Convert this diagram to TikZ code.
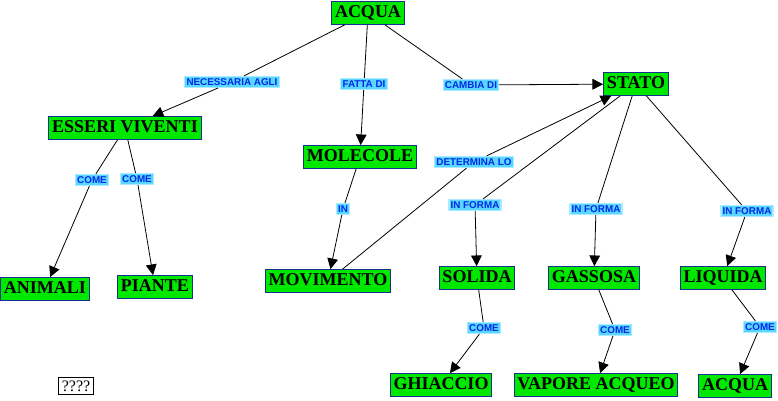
\documentclass[tikz,border=0pt]{standalone}
\usepackage{fontspec}
\setmainfont{Liberation Serif}
\newfontfamily\labelfont{Liberation Sans}
\usetikzlibrary{arrows.meta}

\definecolor{conceptgreen}{RGB}{0,232,0}
\definecolor{conceptborder}{RGB}{20,50,140}
\definecolor{linkfill}{RGB}{90,215,255}
\definecolor{linkglow}{RGB}{170,235,255}
\definecolor{linktext}{RGB}{0,40,230}

\begin{document}
\begin{tikzpicture}[x=0.75pt,y=-0.75pt,
    concept/.style={draw=conceptborder,fill=conceptgreen,line width=0.8pt,
        font=\fontsize{13.5}{15}\selectfont\bfseries,
        inner xsep=2.5pt,inner ysep=2.5pt,text height=9.5pt,text depth=2.5pt},
    link/.style={fill=linkfill,draw=linkglow,line width=0.8pt,text=linktext,
        font=\labelfont\fontsize{7.4}{8}\selectfont\bfseries,
        inner xsep=1.2pt,inner ysep=1pt,text height=5.5pt,text depth=0.8pt},
    conn/.style={line width=0.6pt},
    arr/.style={conn,-{Triangle[length=8pt,width=8pt]}}]

\useasboundingbox (0,0) rectangle (778,400);

% Concepts
\node[concept] (acqua) at (368,13) {ACQUA};
\node[concept] (stato) at (636,84) {STATO};
\node[concept] (esseri) at (125,128) {ESSERI VIVENTI};
\node[concept] (molecole) at (360,157) {MOLECOLE};
\node[concept] (animali) at (45,289) {ANIMALI};
\node[concept] (piante) at (155,287) {PIANTE};
\node[concept] (movimento) at (328,281) {MOVIMENTO};
\node[concept] (solida) at (477,278) {SOLIDA};
\node[concept] (gassosa) at (594,278) {GASSOSA};
\node[concept] (liquida) at (723,278) {LIQUIDA};
\node[concept] (ghiaccio) at (441,385) {GHIACCIO};
\node[concept] (vapore) at (596,385) {VAPORE ACQUEO};
\node[concept] (acqualiq) at (735,386) {ACQUA};

% Free box
\node[draw,fill=white,line width=0.6pt,inner xsep=2.5pt,inner ysep=2.5pt,font=\fontsize{12}{13}\selectfont] (qq) at (76,386) {????};

% Linking phrases
\node[link] (necessaria) at (232,82) {NECESSARIA AGLI};
\node[link] (fatta) at (364,84) {FATTA DI};
\node[link] (cambia) at (471,85) {CAMBIA DI};
\node[link] (determina) at (474,162) {DETERMINA LO};
\node[link] (comeA) at (92,180) {COME};
\node[link] (comeB) at (137,179) {COME};
\node[link] (in) at (343,209) {IN};
\node[link] (formaS) at (475,205) {IN FORMA};
\node[link] (formaG) at (596,209) {IN FORMA};
\node[link] (formaL) at (747,211) {IN FORMA};
\node[link] (comeS) at (484,328) {COME};
\node[link] (comeG) at (615,330) {COME};
\node[link] (comeL) at (760,327) {COME};

% Connections
\draw[conn] (acqua) -- (necessaria);
\draw[arr] (necessaria) -- (esseri);
\draw[conn] (acqua) -- (fatta);
\draw[arr] (fatta) -- (molecole);
\draw[conn] (acqua) -- (cambia);
\draw[arr] (cambia) -- (stato);

\draw[conn] (esseri) -- (comeA);
\draw[arr] (comeA) -- (animali);
\draw[conn] (esseri) -- (comeB);
\draw[arr] (comeB) -- (piante);

\draw[conn] (molecole) -- (in);
\draw[arr] (in) -- (movimento);
\draw[conn] (movimento) -- (determina);
\draw[arr] (determina) -- (stato);

\draw[conn] (stato) -- (formaS);
\draw[arr] (formaS) -- (solida);
\draw[conn] (stato) -- (formaG);
\draw[arr] (formaG) -- (gassosa);
\draw[conn] (stato) -- (formaL);
\draw[arr] (formaL) -- (liquida);

\draw[conn] (solida) -- (comeS);
\draw[arr] (comeS) -- (ghiaccio);
\draw[conn] (gassosa) -- (comeG);
\draw[arr] (comeG) -- (vapore);
\draw[conn] (liquida) -- (comeL);
\draw[arr] (comeL) -- (acqualiq);

\end{tikzpicture}
\end{document}
